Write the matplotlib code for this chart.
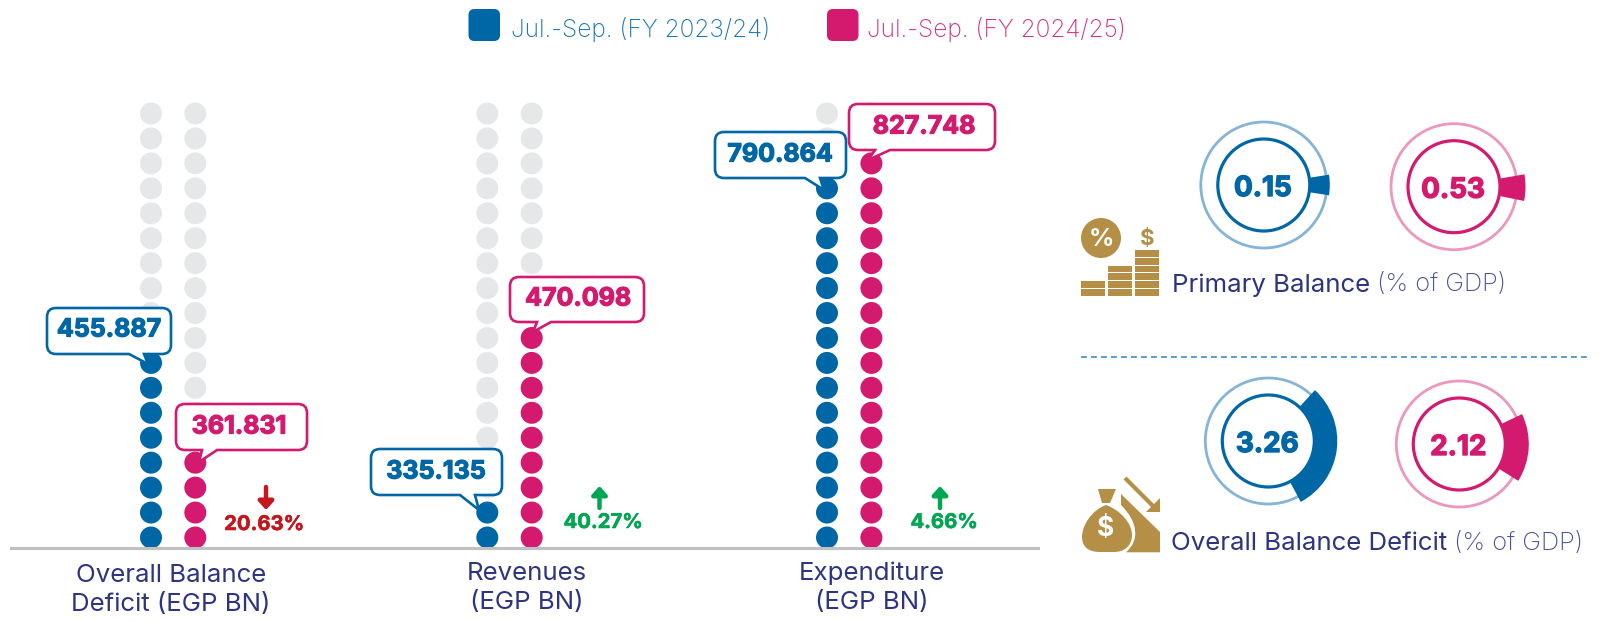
import matplotlib
matplotlib.use('Agg')
import matplotlib.pyplot as plt
from matplotlib.patches import Circle, FancyBboxPatch, PathPatch, Polygon, Rectangle, Wedge
from matplotlib.path import Path
import matplotlib.patheffects as pe

# data
categories = ['Overall Balance\nDeficit (EGP BN)', 'Revenues\n(EGP BN)', 'Expenditure\n(EGP BN)']
values_2324 = ['455.887', '335.135', '790.864']
values_2425 = ['361.831', '470.098', '827.748']
dots_2324 = [8, 2, 15]
dots_2425 = [4, 9, 16]
total_dots = 18
changes = ['20.63%', '40.27%', '4.66%']
change_up = [False, True, True]
legend_labels = ['Jul.-Sep. (FY 2023/24)', 'Jul.-Sep. (FY 2024/25)']
ring_labels = ['0.15', '0.53', '3.26', '2.12']
ring_start = [-9, -11.5, -62, -32]
ring_end = [9, 10, 47.5, 25.5]

BLUE = '#0067a7'
PINK = '#d31a6f'
GREY = '#e6e7e8'
NAVY = '#2e3480'
GOLD = '#b58f45'
RED = '#c4161c'
GREEN = '#00a651'
BOLD = 'Inter'
LIGHT = 'Inter'

fig = plt.figure(figsize=(16.04, 6.21), dpi=100)
ax = fig.add_axes([0, 0, 1, 1])
ax.set_xlim(0, 1604)
ax.set_ylim(621, 0)   # work in image pixels
ax.axis('off')


def heavy(txt, w=0.5, color=None):
    # the installed fonts stop short of the heavy weight in the original
    txt.set_path_effects([pe.withStroke(linewidth=w, foreground=color or txt.get_color())])


def callout(x0, y0, x1, y1, a, b, tip, color, label, tx, ty):
    r = 9
    verts = [(x0 + r, y0), (x1 - r, y0), (x1, y0), (x1, y0 + r), (x1, y1 - r), (x1, y1), (x1 - r, y1),
             (b, y1), tip, (a, y1), (x0 + r, y1), (x0, y1), (x0, y1 - r), (x0, y0 + r), (x0, y0), (x0 + r, y0)]
    codes = [Path.MOVETO, Path.LINETO, Path.CURVE3, Path.CURVE3, Path.LINETO, Path.CURVE3, Path.CURVE3,
             Path.LINETO, Path.LINETO, Path.LINETO, Path.LINETO, Path.CURVE3, Path.CURVE3, Path.LINETO,
             Path.CURVE3, Path.CURVE3]
    ax.add_patch(PathPatch(Path(verts, codes), fc='white', ec=color, lw=1.9, zorder=4))
    t = ax.text(tx, ty, label, color=color, fontsize=18, family=BOLD, weight='bold',
                ha='center', va='center', zorder=5)
    heavy(t, 0.9)


# legend
for x, tx, c, lab in zip([468.5, 827], [511, 867], [BLUE, PINK], legend_labels):
    ax.add_patch(FancyBboxPatch((x + 5, 14), 21.5, 22, boxstyle='round,pad=5,rounding_size=6', fc=c, ec='none'))
    ax.text(tx, 29, lab, color=c, fontsize=17.6, family=LIGHT, weight='light', ha='left', va='center', alpha=.9)

# dot columns
col_x = [(151, 195.3), (487.3, 531.7), (827, 871.4)]
row_gap = (537.5 - 113.5) / (total_dots - 1)
for (xa, xb), na, nb in zip(col_x, dots_2324, dots_2425):
    for x, n, c in [(xa, na, BLUE), (xb, nb, PINK)]:
        ys = [537.5 - i * row_gap for i in range(total_dots)]
        ax.scatter([x] * total_dots, ys, s=251, c=[c if i < n else GREY for i in range(total_dots)],
                   linewidths=0, zorder=2)

ax.plot([11, 1038], [548, 548], color='#bfc0c2', lw=2.2, zorder=3)

# callouts
callout(47, 308, 171, 354, 129, 144, (148, 364), BLUE, values_2324[0], 109, 330)
callout(176, 404, 307, 450, 202, 217, (199, 462), PINK, values_2425[0], 239, 427)
callout(371, 449, 502, 495, 460, 475, (479, 510), BLUE, values_2324[1], 436, 472)
callout(510, 277, 644, 322, 537, 551, (533, 332), PINK, values_2425[1], 578, 299)
callout(715, 132, 846, 178, 805, 820, (824, 190), BLUE, values_2324[2], 780, 155)
callout(849, 104, 995, 150, 875, 890, (868, 160), PINK, values_2425[2], 924, 127)

# yoy change
for x, tx, ty, lab, up in zip([266, 599.5, 940], [264, 603, 944], [525, 523, 523], changes, change_up):
    c = GREEN if up else RED
    ys, ye = (508, 486) if up else (487, 510)
    ax.annotate('', xy=(x, ye), xytext=(x, ys), zorder=5,
                arrowprops=dict(arrowstyle='-|>,head_width=0.45,head_length=0.5', color=c, lw=3.2, shrinkA=0, shrinkB=0))
    t = ax.text(tx, ty, lab, color=c, fontsize=14.6, family=BOLD, weight='bold', ha='center', va='center')
    heavy(t, 0.4)

# category labels
for x, y, lab in zip([171, 527, 872], [590, 588, 588], categories):
    ax.text(x, y, lab, color=NAVY, fontsize=18.6, family=LIGHT, weight='normal', ha='center', va='center',
            linespacing=1.36)

# rings
centres = [(1263.8, 185), (1454, 186.7), (1268.3, 441), (1459.3, 444)]
ring_cols = [BLUE, PINK, BLUE, PINK]
pale = ['#85b5d6', '#eb97be', '#85b5d6', '#eb97be']
outer = [66, 71.5, 69, 69.5]
for (cx, cy), lab, a, b, c, p, ro in zip(centres, ring_labels, ring_start, ring_end, ring_cols, pale, outer):
    ax.add_patch(Circle((cx, cy), 63, fc='none', ec=p, lw=2))
    ax.add_patch(Wedge((cx, cy), ro, -b, -a, width=ro - 46.5, fc=c, ec='none', zorder=2))
    ax.add_patch(Circle((cx, cy), 46, fc='white', ec=c, lw=2.3, zorder=3))
    t = ax.text(cx - 1, cy + 4, lab, color=c, fontsize=20, family=BOLD, weight='bold', ha='center', va='center', zorder=4)
    heavy(t, 1.0)

# divider
ax.plot([1081, 1591], [356.7, 356.7], color='#3c8cc4', lw=1.2, ls=(0, (3.5, 2.5)))

# right labels
for x, y, main, end in [(1172, 285, 'Primary Balance', 1377), (1171, 543.5, 'Overall Balance Deficit', 1454)]:
    ax.text(x, y, main, color=NAVY, fontsize=18.6, family=LIGHT, ha='left', va='center')
    ax.text(end, y, '(% of GDP)', color='#4b5299', fontsize=18.3, family=LIGHT, weight='light', ha='left', va='center')

# coin icon
for cx, n in zip([1081, 1108, 1135], [2, 4, 6]):
    for i in range(n):
        ax.add_patch(Rectangle((cx, 295.7 - (i + 1) * 7.8 + 1), 23.5, 6.8, fc=GOLD, ec='none'))
ax.add_patch(Circle((1101, 238), 20, fc=GOLD, ec='none'))
ax.text(1101, 239, '%', color='white', fontsize=18, family=BOLD, weight='bold', ha='center', va='center')
ax.text(1147, 239, '$', color=GOLD, fontsize=16, family=BOLD, weight='bold', ha='center', va='center')

# money bag icon
ax.add_patch(Polygon([(1098, 489), (1116, 489), (1110, 503), (1102, 503)], fc=GOLD, ec='none'))
bag = [(1106, 505), (1092, 510), (1082, 525), (1082, 537), (1082, 548), (1090, 552), (1100, 552), (1114, 552),
       (1124, 552), (1132, 546), (1132, 535), (1132, 523), (1120, 510), (1106, 505)]
bag_codes = [Path.MOVETO] + [Path.CURVE4] * 6 + [Path.LINETO] + [Path.CURVE4] * 6
ax.add_patch(PathPatch(Path(bag, bag_codes), fc=GOLD, ec='none'))
ax.text(1106, 529, '$', color='white', fontsize=19, family=BOLD, weight='bold', ha='center', va='center')
slope = [(1121, 494), (1160, 532), (1160, 552.3), (1126, 552.3), (1140, 540), (1138, 522), (1121, 505), (1121, 494)]
slope_codes = [Path.MOVETO, Path.LINETO, Path.LINETO, Path.LINETO, Path.CURVE4, Path.CURVE4, Path.CURVE4, Path.LINETO]
ax.add_patch(PathPatch(Path(slope, slope_codes), fc=GOLD, ec='none'))
ax.plot([1125, 1156], [478, 509], color=GOLD, lw=3, solid_capstyle='butt')
ax.add_patch(Polygon([(1159.7, 498), (1159.7, 512.3), (1146, 512.3)], fc=GOLD, ec='none'))

fig.savefig('out.png', dpi=100)
